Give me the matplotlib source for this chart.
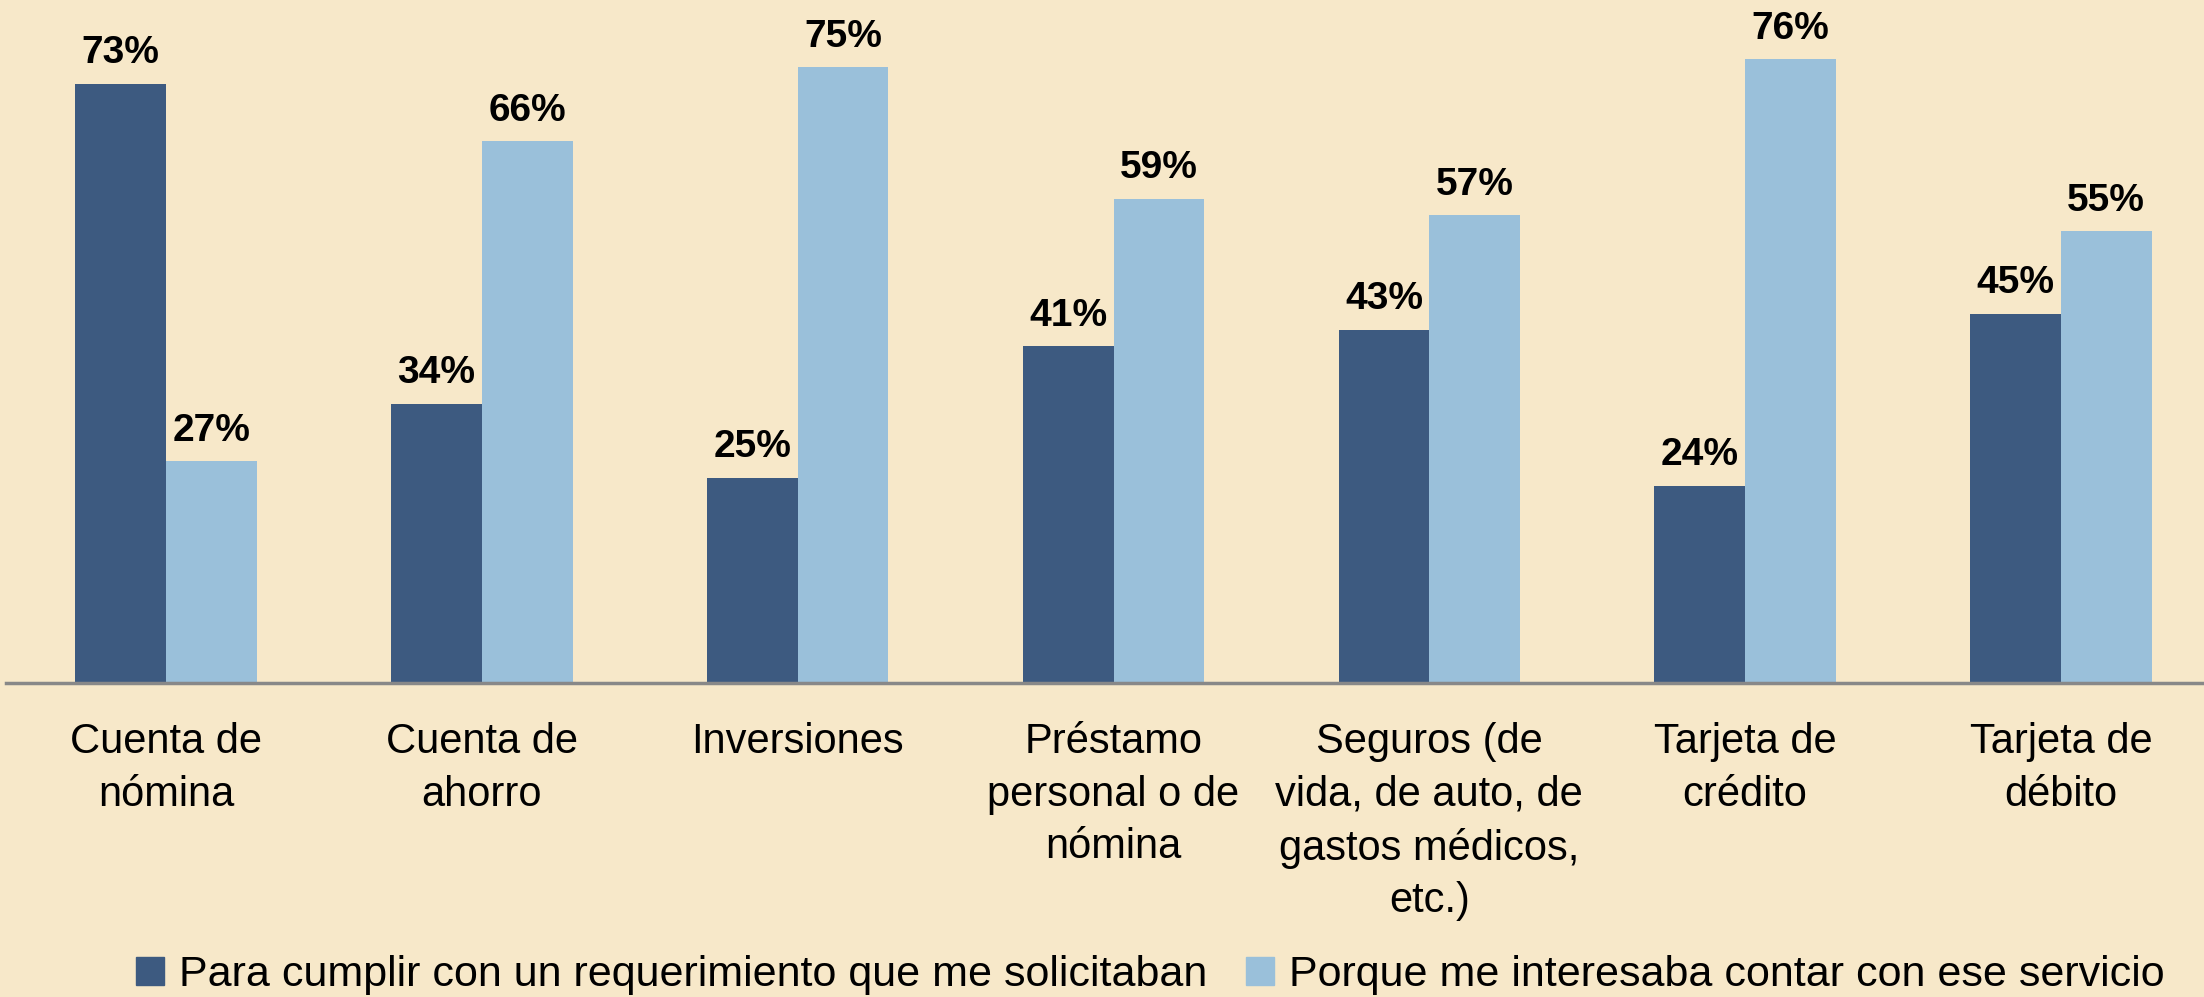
import matplotlib
matplotlib.use("Agg")
import matplotlib.pyplot as plt
import numpy as np
from matplotlib.patches import Patch

# --- data ---
categories = ["Cuenta de\nnómina", "Cuenta de\nahorro", "Inversiones",
              "Préstamo\npersonal o de\nnómina",
              "Seguros (de\nvida, de auto, de\ngastos médicos,\netc.)",
              "Tarjeta de\ncrédito", "Tarjeta de\ndébito"]
requerimiento = [73, 34, 25, 41, 43, 24, 45]
interes = [27, 66, 75, 59, 57, 76, 55]
series_names = ["Para cumplir con un requerimiento que me solicitaban",
                "Porque me interesaba contar con ese servicio"]

bg = "#F7E8C9"
dark = "#3D5A80"
light = "#9AC0DA"

plt.rcParams['font.family'] = ['Liberation Sans', 'DejaVu Sans']

fig = plt.figure(figsize=(22.04, 9.97), dpi=100, facecolor=bg)
ax = fig.add_axes([0.0027, 0.315, 0.9973, 0.685])
ax.set_facecolor(bg)

x = np.arange(len(categories))
w = 0.287
b1 = ax.bar(x - w / 2, requerimiento, w, color=dark)
b2 = ax.bar(x + w / 2, interes, w, color=light)

for bars, vals in ((b1, requerimiento), (b2, interes)):
    for r, v in zip(bars, vals):
        ax.annotate(f"{v}%", (r.get_x() + r.get_width() / 2, v),
                    xytext=(0, 9), textcoords="offset points",
                    ha="center", va="bottom", fontsize=28, fontweight="bold")

ax.set_xlim(-0.507, 6.453)
ax.set_ylim(0, 83.2)
ax.set_yticks([])
ax.set_xticks(x)
ax.set_xticklabels(categories, fontsize=30, linespacing=1.41)
ax.tick_params(axis="x", length=0, pad=28)
for s in ("top", "right", "left"):
    ax.spines[s].set_visible(False)
ax.spines["bottom"].set_color("#888888")
ax.spines["bottom"].set_linewidth(2.5)

handles = [Patch(color=dark), Patch(color=light)]
fig.legend(handles, series_names, loc="lower center", ncol=2, frameon=False,
           fontsize=31, handlelength=0.65, handleheight=0.65, handletextpad=0.35,
           columnspacing=0.9, bbox_to_anchor=(0.522, -0.037))

fig.savefig("out.png", dpi=100, facecolor=bg)
